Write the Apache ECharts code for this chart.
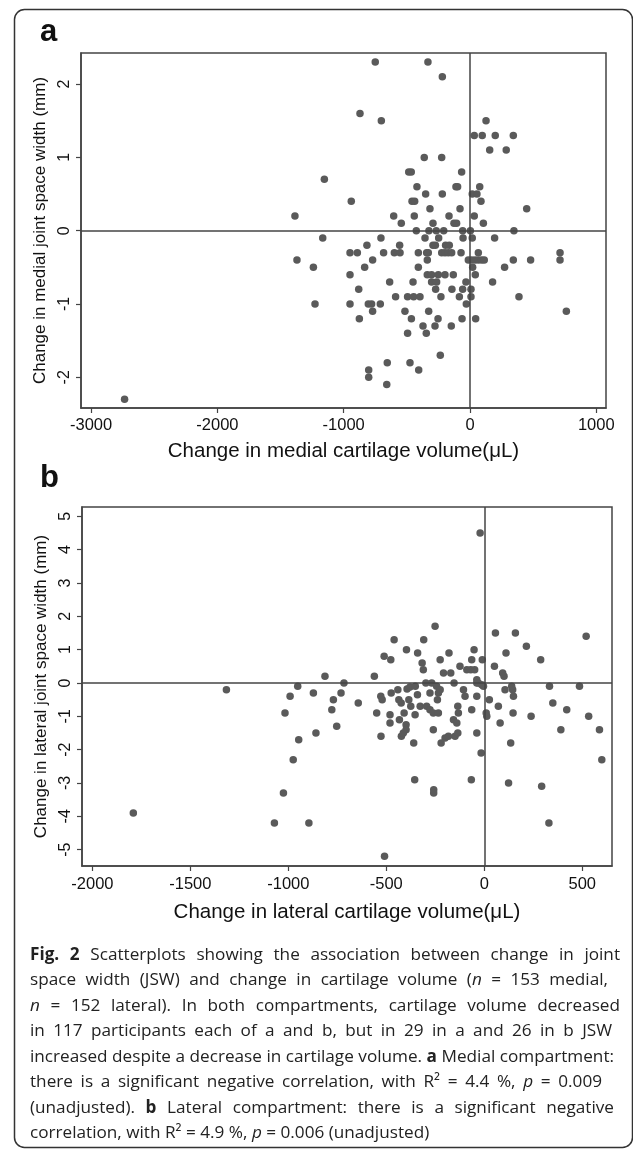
<!DOCTYPE html>
<html><head><meta charset="utf-8">
<script src="https://cdn.jsdelivr.net/npm/echarts@6/dist/echarts.min.js"></script>
<style>html,body{margin:0;padding:0;background:#fff}#c{width:633px;height:1157px}</style>
</head><body><div id="c"></div>
<script>
// Panel a: change in medial cartilage volume (µL) vs change in medial JSW (mm)
const medialData = [
[-750,2.3],[-333,2.3],[-219,2.1],[-871,1.6],[-702,1.5],[127,1.5],
[34,1.3],[97,1.3],[200,1.3],[343,1.3],[156,1.1],[287,1.1],
[-362,1.0],[-224,1.0],[-485,0.8],[-465,0.8],[-66,0.8],
[-1153,0.7],[-420,0.6],[-111,0.6],[-98,0.6],[77,0.6],
[-351,0.5],[-219,0.5],[18,0.5],[55,0.5],
[-940,0.4],[-459,0.4],[-438,0.4],[87,0.4],
[449,0.3],[-317,0.3],[-79,0.3],
[-1386,0.2],[-604,0.2],[-441,0.2],[-166,0.2],[34,0.2],
[-544,0.1],[-293,0.1],[-127,0.1],[-106,0.1],[106,0.1],
[-425,0],[-325,0],[-267,0],[-208,0],[-58,0],[3,0],[348,0],
[-1166,-0.1],[-705,-0.1],[-356,-0.1],[-248,-0.1],[-55,-0.1],[18,-0.1],[195,-0.1],
[-816,-0.2],[-557,-0.2],[-293,-0.2],[-274,-0.2],[-193,-0.2],[-164,-0.2],
[-950,-0.3],[-892,-0.3],[-684,-0.3],[-599,-0.3],[-554,-0.3],[-409,-0.3],[-343,-0.3],[-330,-0.3],[-224,-0.3],[-198,-0.3],[-172,-0.3],[-145,-0.3],[-71,-0.3],[66,-0.3],[713,-0.3],
[-1370,-0.4],[-771,-0.4],[-338,-0.4],[-13,-0.4],[13,-0.4],[40,-0.4],[66,-0.4],[92,-0.4],[113,-0.4],[343,-0.4],[480,-0.4],[713,-0.4],
[-1240,-0.5],[-834,-0.5],[-409,-0.5],[21,-0.5],[274,-0.5],
[-950,-0.6],[-338,-0.6],[-304,-0.6],[-251,-0.6],[-198,-0.6],[-132,-0.6],[42,-0.6],
[-636,-0.7],[-451,-0.7],[-304,-0.7],[-264,-0.7],[-32,-0.7],[179,-0.7],
[-881,-0.8],[-272,-0.8],[-143,-0.8],[-58,-0.8],[8,-0.8],
[-589,-0.9],[-494,-0.9],[-446,-0.9],[-396,-0.9],[-230,-0.9],[-84,-0.9],[8,-0.9],[388,-0.9],
[-1227,-1.0],[-950,-1.0],[-805,-1.0],[-779,-1.0],[-710,-1.0],[-29,-1.0],
[-771,-1.1],[-515,-1.1],[-327,-1.1],[763,-1.1],
[-876,-1.2],[-464,-1.2],[-253,-1.2],[-63,-1.2],[45,-1.2],
[-372,-1.3],[-277,-1.3],[-148,-1.3],[-494,-1.4],[-346,-1.4],
[-235,-1.7],[-655,-1.8],[-475,-1.8],[-802,-1.9],[-406,-1.9],[-802,-2.0],[-659,-2.1],
[-2735,-2.3]
];
// Panel b: change in lateral cartilage volume (µL) vs change in lateral JSW (mm)
const lateralData = [
[-21,4.5],
[-251,1.7],[57,1.5],[159,1.5],[520,1.4],[-460,1.3],[-309,1.3],[215,1.1],
[-397,1.0],[-52,1.0],[-340,0.9],[-180,0.9],[111,0.9],
[-511,0.8],[-477,0.7],[-225,0.7],[-64,0.7],[-10,0.7],[288,0.7],[-317,0.6],
[-124,0.5],[52,0.5],[-311,0.4],[-89,0.4],[-69,0.4],[-49,0.4],
[-208,0.3],[-171,0.3],[94,0.3],[-561,0.2],[101,0.2],[-813,0.2],[-38,0.1],
[-716,0],[-298,0],[-268,0],[-154,0],[-30,0],[-38,0],[-13,-0.05],[-4,-0.1],
[-1316,-0.2],[-952,-0.1],[-991,-0.4],[-872,-0.3],[-731,-0.3],[-770,-0.5],[-778,-0.8],[-1017,-0.9],[-753,-1.3],[-859,-1.5],[-947,-1.7],[-975,-2.3],
[-643,-0.6],[-549,-0.9],[-528,-0.4],[-521,-0.5],[-475,-0.3],[-441,-0.2],[-394,-0.18],[-379,-0.12],[-352,-0.1],
[-436,-0.5],[-424,-0.6],[-385,-0.5],[-375,-0.7],[-341,-0.35],[-327,-0.7],[-277,-0.3],
[-481,-0.95],[-481,-1.2],[-433,-1.1],[-409,-0.9],[-399,-1.25],[-399,-1.4],[-353,-0.95],[-423,-1.6],[-413,-1.5],
[-527,-1.6],[-360,-1.8],
[-294,-0.7],[-277,-0.8],[-260,-0.9],[-234,-0.9],[-260,-1.4],
[-243,-0.1],[-234,-0.3],[-239,-0.5],[-225,-0.2],
[-220,-1.8],[-200,-1.65],[-183,-1.6],[-149,-1.6],[-135,-1.5],
[-135,-0.7],[-132,-0.9],[-157,-1.1],[-140,-1.2],
[-106,-0.2],[-98,-0.4],[-64,-0.8],[-38,-1.5],[-38,-0.4],[-16,-2.1],
[10,-0.9],[13,-1.0],[26,-0.5],[72,-0.7],[81,-1.2],[106,-0.2],[149,-0.4],[145,-0.2],[140,-0.1],[147,-0.9],[135,-1.8],[239,-1.0],
[333,-0.1],[486,-0.1],[350,-0.6],[421,-0.8],[533,-1.0],[391,-1.4],[588,-1.4],[600,-2.3],
[-355,-2.9],[-66,-2.9],[-258,-3.2],[-258,-3.3],[124,-3.0],[293,-3.1],[-1025,-3.3],[-1791,-3.9],[-1071,-4.2],[-895,-4.2],[330,-4.2],[-509,-5.2]
];
const medialXTicks = [-3000,-2000,-1000,0,1000];
const medialYTicks = [-2,-1,0,1,2];
const lateralXTicks = [-2000,-1500,-1000,-500,0,500];
const lateralYTicks = [-5,-4,-3,-2,-1,0,1,2,3,4,5];
const medialXTitle = 'Change in medial cartilage volume(\u03bcL)';
const medialYTitle = 'Change in medial joint space width (mm)';
const lateralXTitle = 'Change in lateral cartilage volume(\u03bcL)';
const lateralYTitle = 'Change in lateral joint space width (mm)';
const captionLines = [
  '{b|Fig. 2} Scatterplots showing the association between change in joint',
  'space width (JSW) and change in cartilage volume ({i|n} = 153 medial,',
  '{i|n} = 152 lateral). In both compartments, cartilage volume decreased',
  'in 117 participants each of a and b, but in 29 in a and 26 in b JSW',
  'increased despite a decrease in cartilage volume. {b|a} Medial compartment:',
  'there is a significant negative correlation, with R\u00b2 = 4.4 %, {i|p} = 0.009',
  '(unadjusted). {b|b} Lateral compartment: there is a significant negative',
  'correlation, with R\u00b2 = 4.9 %, {i|p} = 0.006 (unadjusted)'
];

const LINE = '#444';
const SANS = "'Liberation Sans', Arial, sans-serif";
const plain = v => String(v);
function xAx(gi, min, max, ticks, name, margin, gap) {
  return {type:'value', gridIndex:gi, min, max, name, nameLocation:'middle', nameGap:gap,
    nameTextStyle:{fontSize:20.5, fontFamily:SANS, color:'#111'},
    axisLine:{show:true, onZero:false, lineStyle:{color:LINE, width:1.5}},
    axisTick:{show:true, length:5, customValues:ticks, lineStyle:{color:LINE, width:1.2}},
    axisLabel:{customValues:ticks, formatter:plain, fontSize:16.5, fontFamily:SANS, color:'#111', margin:margin},
    splitLine:{show:false}};
}
function yAx(gi, min, max, ticks, name) {
  return {type:'value', gridIndex:gi, min, max, name, nameLocation:'middle', nameGap:27, nameRotate:90,
    nameTextStyle:{fontSize:17, fontFamily:SANS, color:'#111'},
    axisLine:{show:true, onZero:false, lineStyle:{color:LINE, width:1.5}},
    axisTick:{show:true, length:5, customValues:ticks, lineStyle:{color:LINE, width:1.2}},
    axisLabel:{customValues:ticks, formatter:plain, rotate:90, fontSize:16, fontFamily:SANS, color:'#111', margin:8},
    splitLine:{show:false}};
}
function ser(gi, data) {
  return {type:'scatter', xAxisIndex:gi, yAxisIndex:gi, data, symbolSize:7.5,
    itemStyle:{color:'#5a5a5a', opacity:1}, animation:false, silent:true,
    markLine:{silent:true, symbol:'none', animation:false, label:{show:false},
      lineStyle:{color:LINE, width:1.5, type:'solid'}, emphasis:{disabled:true},
      data:[{xAxis:0},{yAxis:0}]}};
}
const graphics = [
  {type:'rect', shape:{x:14.5, y:9.5, width:618, height:1138, r:10}, style:{fill:'none', stroke:'#333', lineWidth:1.5}},
  {type:'text', x:40, y:32, style:{text:'a', fontSize:31, fontWeight:'bold', fontFamily:SANS, fill:'#111', verticalAlign:'middle'}},
  {type:'text', x:40, y:478, style:{text:'b', fontSize:31, fontWeight:'bold', fontFamily:SANS, fill:'#111', verticalAlign:'middle'}}
];

// ---- caption, each line spread to the right end it has in the reference ----
const CAP = "'Open Sans', sans-serif";
const CAPX = 30, CAPY = 955, CAPLH = 25.5;
const captionLineEnds = [620, 608, 620, 612, 614, 602, 614, 0];
const mctx = document.createElement('canvas').getContext('2d');
function fontStr(st, size) { return (st === 'b' ? 'bold ' : st === 'i' ? 'italic ' : '') + size + 'px ' + CAP; }
function toWords(line) {
  const segs = [];
  line.split(/(\{[bi]\|[^}]*\})/).forEach(p => {
    if (!p) return;
    const m = p.match(/^\{([bi])\|([^}]*)\}$/);
    segs.push(m ? {t:m[2], st:m[1]} : {t:p, st:'n'});
  });
  const words = []; let cur = [];
  segs.forEach(s => {
    s.t.split(' ').forEach((part, k) => {
      if (k > 0) { if (cur.length) words.push(cur); cur = []; }
      if (part) cur.push({t:part, st:s.st});
    });
  });
  if (cur.length) words.push(cur);
  return words;
}
function wordW(w, size) { return w.reduce((a, p) => { mctx.font = fontStr(p.st, size); return a + mctx.measureText(p.t).width; }, 0); }
function spaceW(size) { mctx.font = fontStr('n', size); return mctx.measureText(' ').width; }
const capWords = captionLines.map(toWords);
const natural = (ws, size) => ws.reduce((a, w) => a + wordW(w, size), 0) + spaceW(size) * (ws.length - 1);
let capSize = 20;
capWords.forEach((ws, i) => { if (captionLineEnds[i]) capSize = Math.min(capSize, 20 * (captionLineEnds[i] - CAPX) / natural(ws, 20)); });
capWords.forEach((ws, i) => {
  const widths = ws.map(w => wordW(w, capSize));
  const sum = widths.reduce((a, b) => a + b, 0);
  const gap = captionLineEnds[i] ? (captionLineEnds[i] - CAPX - sum) / (ws.length - 1) : spaceW(capSize);
  let x = CAPX;
  ws.forEach((w, j) => {
    graphics.push({type:'text', x:x, y:CAPY + i * CAPLH, style:{
      text: w.map(p => '{' + p.st + '|' + p.t + '}').join(''),
      fontSize:capSize, fontFamily:CAP, fill:'#222', verticalAlign:'middle',
      rich:{n:{fontSize:capSize, fontFamily:CAP, fill:'#222'},
            b:{fontWeight:'bold', fontSize:capSize, fontFamily:CAP, fill:'#222'},
            i:{fontStyle:'italic', fontSize:capSize, fontFamily:CAP, fill:'#222'}}}});
    x += widths[j] + gap;
  });
});

const chart = echarts.init(document.getElementById('c'), null, {renderer:'canvas'});
chart.setOption({
  animation:false,
  backgroundColor:'#fff',
  grid:[
    {left:81, top:53, width:525, height:355, show:true, borderColor:LINE, borderWidth:1.5, backgroundColor:'transparent'},
    {left:82, top:507, width:530, height:359, show:true, borderColor:LINE, borderWidth:1.5, backgroundColor:'transparent'}
  ],
  xAxis:[xAx(0,-3080,1077,medialXTicks,medialXTitle,9,33), xAx(1,-2053,652,lateralXTicks,lateralXTitle,10,36)],
  yAxis:[yAx(0,-2.419,2.424,medialYTicks,medialYTitle), yAx(1,-5.49,5.28,lateralYTicks,lateralYTitle)],
  series:[ser(0, medialData), ser(1, lateralData)],
  graphic:graphics
});
</script></body></html>
